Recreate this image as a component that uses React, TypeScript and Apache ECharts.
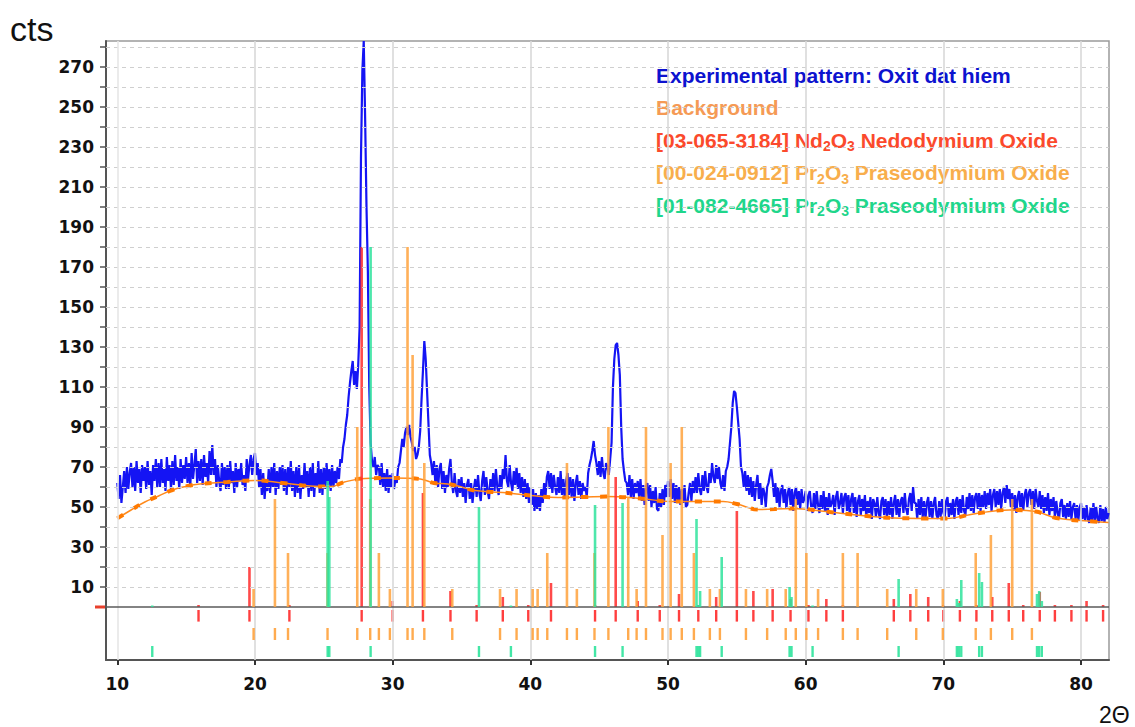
import React, { useEffect, useRef } from "react";
import * as echarts from "echarts";

// ---------- data ----------
// Experimental pattern: counts sampled every 0.1° 2θ from 10.0° to 82.0°
const expStart = 10;
const expStep = 0.1;
const expCounts: number[] = [
  62, 54, 66, 52, 60, 68, 57, 70, 59, 67, // 10
  72, 60, 70, 58, 73, 62, 69, 57, 71, 63, // 11
  70, 59, 73, 61, 68, 56, 71, 63, 74, 60, // 12
  72, 60, 74, 62, 69, 58, 75, 63, 71, 59, // 13
  73, 61, 76, 63, 70, 59, 74, 62, 71, 64, // 14
  75, 62, 72, 60, 77, 64, 71, 79, 62, 73, // 15
  63, 74, 61, 76, 65, 72, 62, 78, 66, 81, // 16
  66, 74, 60, 71, 63, 58, 72, 61, 70, 59, // 17
  71, 59, 73, 62, 68, 57, 72, 60, 69, 63, // 18
  72, 61, 66, 58, 74, 64, 71, 76, 66, 74, // 19
  77, 66, 72, 60, 69, 56, 67, 54, 64, 58, // 20
  69, 57, 70, 60, 72, 56, 68, 59, 70, 61, // 21
  71, 58, 69, 56, 70, 60, 73, 58, 68, 55, // 22
  70, 57, 71, 54, 66, 59, 72, 60, 68, 55, // 23
  70, 58, 72, 55, 67, 60, 73, 57, 69, 56, // 24
  70, 59, 72, 61, 69, 58, 71, 60, 68, 62, // 25
  70, 64, 74, 72, 80, 84, 91, 96, 105, 112, // 26
  118, 123, 111, 118, 109, 121, 140, 225, 268, 283, // 27
  245, 200, 168, 110, 82, 73, 70, 75, 66, 71, // 28
  70, 61, 72, 60, 67, 58, 69, 57, 66, 60, // 29
  67, 59, 64, 62, 70, 72, 78, 84, 80, 87, // 30
  90, 86, 91, 85, 82, 78, 80, 74, 76, 80, // 31
  88, 104, 118, 133, 124, 108, 92, 76, 72, 66, // 32
  73, 62, 71, 60, 69, 72, 59, 68, 57, 66, // 33
  60, 69, 74, 62, 57, 67, 58, 55, 64, 57, // 34
  65, 55, 62, 52, 61, 64, 54, 62, 52, 59, // 35
  64, 55, 66, 57, 53, 63, 68, 56, 65, 58, // 36
  54, 64, 57, 67, 58, 69, 60, 56, 66, 59, // 37
  69, 64, 76, 63, 60, 71, 62, 58, 68, 61, // 38
  70, 59, 67, 57, 65, 55, 64, 54, 62, 52, // 39
  60, 51, 59, 48, 57, 49, 56, 48, 59, 52, // 40
  62, 55, 65, 68, 59, 67, 57, 66, 60, 56, // 41
  65, 57, 68, 56, 64, 54, 63, 67, 56, 65, // 42
  55, 64, 53, 62, 66, 56, 63, 54, 62, 58, // 43
  60, 55, 67, 71, 74, 78, 83, 76, 72, 66, // 44
  73, 65, 75, 67, 64, 72, 70, 66, 74, 82, // 45
  110, 124, 131, 132, 126, 116, 90, 74, 68, 63, // 46
  62, 56, 66, 55, 64, 54, 62, 57, 63, 55, // 47
  64, 53, 61, 51, 60, 62, 53, 61, 50, 58, // 48
  52, 60, 49, 48, 57, 50, 59, 51, 61, 55, // 49
  63, 55, 64, 54, 62, 52, 61, 53, 60, 51, // 50
  59, 52, 61, 50, 51, 57, 62, 53, 63, 57, // 51
  65, 57, 67, 59, 56, 66, 58, 68, 60, 57, // 52
  67, 62, 72, 65, 62, 71, 64, 70, 62, 59, // 53
  66, 58, 68, 70, 74, 82, 90, 102, 108, 107, // 54
  100, 92, 84, 70, 67, 60, 68, 58, 66, 56, // 55
  65, 55, 63, 53, 61, 66, 54, 62, 51, 60, // 56
  57, 50, 60, 62, 66, 69, 63, 55, 62, 52, // 57
  60, 50, 58, 61, 52, 59, 49, 57, 60, 51, // 58
  59, 48, 57, 60, 51, 58, 49, 59, 52, 54, // 59
  58, 48, 56, 58, 50, 47, 57, 49, 58, 51, // 60
  47, 56, 49, 58, 48, 55, 46, 57, 50, 52, // 61
  56, 46, 55, 58, 49, 52, 57, 47, 55, 57, // 62
  48, 56, 46, 54, 57, 47, 55, 45, 53, 56, // 63
  46, 54, 48, 56, 45, 53, 47, 55, 44, 54, // 64
  52, 45, 55, 47, 44, 53, 55, 46, 54, 45, // 65
  53, 46, 55, 44, 52, 56, 46, 54, 45, 53, // 66
  55, 47, 57, 49, 46, 54, 57, 48, 60, 52, // 67
  52, 44, 54, 46, 55, 45, 53, 44, 52, 55, // 68
  45, 53, 44, 52, 55, 46, 44, 53, 45, 54, // 69
  47, 45, 53, 55, 45, 52, 46, 54, 44, 53, // 70
  55, 46, 54, 47, 56, 48, 46, 55, 49, 57, // 71
  48, 56, 47, 55, 57, 49, 57, 48, 56, 50, // 72
  58, 49, 57, 51, 59, 48, 56, 59, 50, 58, // 73
  51, 59, 49, 57, 60, 52, 61, 54, 59, 50, // 74
  57, 48, 56, 47, 55, 58, 49, 57, 48, 56, // 75
  59, 50, 57, 59, 51, 58, 49, 59, 53, 50, // 76
  58, 49, 56, 47, 55, 48, 57, 46, 54, 48, // 77
  55, 45, 53, 47, 44, 52, 54, 45, 51, 44, // 78
  52, 45, 53, 44, 50, 52, 44, 51, 43, 50, // 79
  52, 44, 50, 43, 51, 44, 42, 50, 43, 52, // 80
  43, 50, 44, 42, 51, 43, 49, 42, 50, 44, // 81
  47, // 82
];

// Background curve [2theta, counts]
const background: [number, number][] = [
  [10, 44.3], [11, 48.5], [12, 52.5], [13, 55.5], [14, 58.5], [15, 60.3], [16, 61.5], [18, 62.5], [20, 63.3], [22, 62],
  [24, 60.5], [25.5, 60.2], [26.5, 62.5], [28, 64.3], [30, 64.5], [32, 64], [33, 62], [34, 61.5], [35, 60], [36, 58.2],
  [38, 57.2], [40, 55.8], [42, 54.8], [44, 55], [45.5, 55.2], [48, 54.3], [50, 52.8], [52, 52.7], [54, 52.7], [55, 51.5],
  [56.6, 48.7], [59, 49.3], [61.5, 47.7], [63.7, 46], [66.4, 44.5], [68.8, 44.3], [70.2, 44.3], [72.4, 46.8], [74.8, 48.5],
  [76.7, 47.7], [78.2, 44.5], [80.9, 42.8], [82, 42.3],
];

// Reference sticks [2theta, relative height]
const ndSticks: [number, number][] = [
  [15.9, 1], [19.6, 20], [22.5, 1], [27.75, 180], [30.0, 3], [32.2, 57], [34.2, 8], [36.1, 1], [38.0, 5], [39.85, 1],
  [41.5, 12], [44.7, 1], [46.2, 65], [47.8, 3], [49.4, 1], [50.8, 6.5], [52.2, 1], [53.5, 5], [55.0, 48], [56.2, 8],
  [57.6, 9], [58.9, 4], [60.2, 1], [61.5, 4], [62.7, 1], [66.4, 4], [67.6, 6.5], [68.9, 5], [70.0, 1], [71.2, 3],
  [72.4, 1], [73.55, 5], [74.75, 12], [75.8, 1], [77.0, 7.5], [78.1, 1], [79.3, 1], [80.4, 3], [81.6, 1],
];
const pr1Sticks: [number, number][] = [
  [19.9, 9], [21.45, 54], [22.4, 27], [25.27, 27], [27.43, 90], [28.37, 54], [29.0, 27], [29.8, 9], [31.08, 180], [31.45, 126],
  [32.3, 72], [34.33, 9], [37.8, 9], [39.0, 9], [40.17, 9], [40.53, 9], [41.23, 27], [42.66, 72], [43.38, 9], [44.66, 27],
  [45.67, 90], [47.11, 55], [47.72, 9], [48.4, 90], [49.6, 36], [50.19, 72], [51.0, 90], [51.88, 27], [53.04, 9], [53.77, 9],
  [55.66, 9], [57.2, 9], [58.55, 9], [59.28, 54], [60.05, 27], [60.9, 9], [62.7, 27], [63.77, 27], [65.92, 9], [68.03, 9],
  [69.96, 9], [72.35, 27], [73.45, 36], [75.0, 54], [76.43, 54],
];
const pr2Sticks: [number, number][] = [
  [12.54, 0.5], [25.28, 63], [25.4, 55], [28.4, 180], [36.27, 50], [38.59, 0.5], [44.7, 51], [46.7, 52], [52.07, 44], [52.2, 1],
  [52.33, 8], [53.9, 25], [58.83, 10], [58.97, 5], [60.5, 0.5], [66.75, 14], [70.98, 4], [71.13, 2], [71.3, 13.5], [72.6, 17],
  [72.8, 12.5], [76.8, 6.5], [76.96, 8], [77.15, 3],
];

// Axis ticks / labels
const xLabelValues = [10, 20, 30, 40, 50, 60, 70, 80];
const xGridValues = [10, 20, 30, 40, 50, 60, 70, 80];
const yLabelValues = [10, 30, 50, 70, 90, 110, 130, 150, 170, 190, 210, 230, 250, 270];
const yTickValues = [10, 20, 30, 40, 50, 60, 70, 80, 90, 100, 110, 120, 130, 140, 150, 160, 170, 180, 190, 200, 210, 220, 230, 240, 250, 260, 270, 280];

const legendLines = [
  { text: "Experimental pattern: Oxit dat hiem", color: "#0c12cf" },
  { text: "Background", color: "#f59a55" },
  { text: "[03-065-3184] Nd{s|2}O{s|3} Nedodymium Oxide", color: "#fb4a2c" },
  { text: "[00-024-0912] Pr{s|2}O{s|3} Praseodymium Oxide", color: "#f8ae4c" },
  { text: "[01-082-4665] Pr{s|2}O{s|3} Praseodymium Oxide", color: "#1fd68b" },
];

const RED = "#ff2a2a";
const ORANGE = "#ffa23c";
const GREEN = "#2fe39c";

function stickSeries(name: string, data: [number, number][], color: string, row: [number, number], z: number) {
  return [
    {
      name,
      type: "custom",
      z,
      data,
      encode: { x: 0, y: 1 },
      renderItem: (params: any, api: any) => {
        const x = api.value(0);
        const h = api.value(1);
        const p0 = api.coord([x, 0]);
        const p1 = api.coord([x, h]);
        return {
          type: "line",
          shape: { x1: p0[0], y1: p0[1], x2: p1[0], y2: Math.min(p1[1], p0[1] - 1.5) },
          style: { stroke: color, lineWidth: 2.6, opacity: 0.85 },
        };
      },
    },
    {
      name: name + " markers",
      type: "custom",
      z,
      data,
      encode: { x: 0, y: 1 },
      renderItem: (params: any, api: any) => {
        const x = api.value(0);
        const p0 = api.coord([x, row[0]]);
        const p1 = api.coord([x, row[1]]);
        return {
          type: "line",
          shape: { x1: p0[0], y1: p0[1], x2: p1[0], y2: p1[1] },
          style: { stroke: color, lineWidth: 2.4, opacity: 0.9 },
        };
      },
    },
  ];
}

export default function App() {
  const ref = useRef<HTMLDivElement>(null);
  useEffect(() => {
    if (!ref.current) return;
    const chart = echarts.init(ref.current, null, { renderer: "svg" });
    const experimental = expCounts.map((c, i) => [Number((expStart + i * expStep).toFixed(2)), c]);
    const gridLineData: any[] = [
      ...yTickValues.map((v) => ({ yAxis: v, lineStyle: { color: "#cfcfcf", type: [4, 4], width: 1 } })),
      ...xGridValues.map((v) => ({ xAxis: v, lineStyle: { color: v === 10 ? "#e6e6e6" : "#d9d9d9", type: "solid", width: 1.6 } })),
      { yAxis: 0, lineStyle: { color: "#5a5a5a", type: "solid", width: 1.5 } },
    ];
    const legendGraphics = legendLines.map((l, i) => ({
      type: "text",
      x: 656,
      y: 75.5 + i * 32.4,
      style: {
        text: l.text,
        fill: l.color,
        fontSize: 21,
        fontWeight: "bold",
        fontFamily: "Liberation Sans",
        lineHeight: 26,
        verticalAlign: "middle",
        rich: {
          s: {
            fill: l.color,
            fontSize: 14,
            fontWeight: "bold",
            fontFamily: "Liberation Sans",
            lineHeight: 13,
            verticalAlign: "bottom",
          },
        },
      },
    }));
    chart.setOption({
      animation: false,
      backgroundColor: "#ffffff",
      grid: {
        left: 106,
        right: 26,
        top: 41,
        bottom: 67,
        show: true,
        borderColor: "#9a9a9a",
        borderWidth: 1.5,
        backgroundColor: "transparent",
      },
      xAxis: {
        type: "value",
        min: 9.18,
        max: 82.03,
        axisLine: { show: true, onZero: false, lineStyle: { color: "#555555", width: 2 } },
        axisTick: { show: true, customValues: xLabelValues, length: 5, lineStyle: { color: "#333333", width: 2 } },
        axisLabel: {
          customValues: xLabelValues,
          color: "#111111",
          fontFamily: "DejaVu Sans",
          fontWeight: "bold",
          fontSize: 17,
          margin: 15,
        },
        splitLine: { show: false },
      },
      yAxis: {
        type: "value",
        min: -26.5,
        max: 283,
        axisLine: { show: true, onZero: false, lineStyle: { color: "#555555", width: 2 } },
        axisTick: { show: true, customValues: yTickValues, length: 6, lineStyle: { color: "#555555", width: 1.5 } },
        axisLabel: {
          customValues: yLabelValues,
          color: "#111111",
          fontFamily: "DejaVu Sans",
          fontWeight: "bold",
          fontSize: 17,
          margin: 12,
        },
        splitLine: { show: false },
      },
      series: [
        {
          name: "grid",
          type: "line",
          z: 1,
          data: [[9.18, -100]],
          showSymbol: false,
          lineStyle: { opacity: 0 },
          markLine: {
            silent: true,
            symbol: ["none", "none"],
            label: { show: false },
            emphasis: { disabled: true },
            data: gridLineData,
          },
        },
        {
          name: "Experimental pattern",
          type: "line",
          z: 2,
          data: experimental,
          showSymbol: false,
          lineStyle: { color: "#1414f4", width: 2.2 },
        },
        {
          name: "Background",
          type: "line",
          z: 3,
          data: background,
          smooth: 0.4,
          showSymbol: false,
          lineStyle: { color: "#ff8a1c", width: 1.5 },
        },
        {
          name: "Background dashes",
          type: "line",
          z: 3,
          data: background,
          smooth: 0.4,
          showSymbol: false,
          lineStyle: { color: "#ff7a00", width: 4, type: [7, 12] },
        },
        ...stickSeries("Nd2O3", ndSticks, RED, [-1.5, -7.3], 4),
        ...stickSeries("Pr2O3 00-024-0912", pr1Sticks, ORANGE, [-10.5, -16.5], 5),
        ...stickSeries("Pr2O3 01-082-4665", pr2Sticks, GREEN, [-19.5, -25], 6),
      ],
      graphic: [
        {
          type: "text",
          x: 10,
          y: 29,
          style: {
            text: "cts",
            fill: "#111111",
            fontSize: 34,
            fontFamily: "Liberation Sans",
            verticalAlign: "middle",
          },
        },
        {
          type: "text",
          x: 1099,
          y: 715,
          style: {
            text: "2Θ",
            fill: "#111111",
            fontSize: 23,
            fontFamily: "Liberation Sans",
            verticalAlign: "middle",
          },
        },
        {
          type: "line",
          shape: { x1: 95, y1: 607, x2: 107, y2: 607 },
          style: { stroke: "#e8402c", lineWidth: 3 },
        },
        ...legendGraphics,
      ],
    });
    return () => chart.dispose();
  }, []);
  return (
    <div
      ref={ref}
      style={{ position: "fixed", left: 0, top: 0, width: 1135, height: 727, background: "#ffffff" }}
    />
  );
}
